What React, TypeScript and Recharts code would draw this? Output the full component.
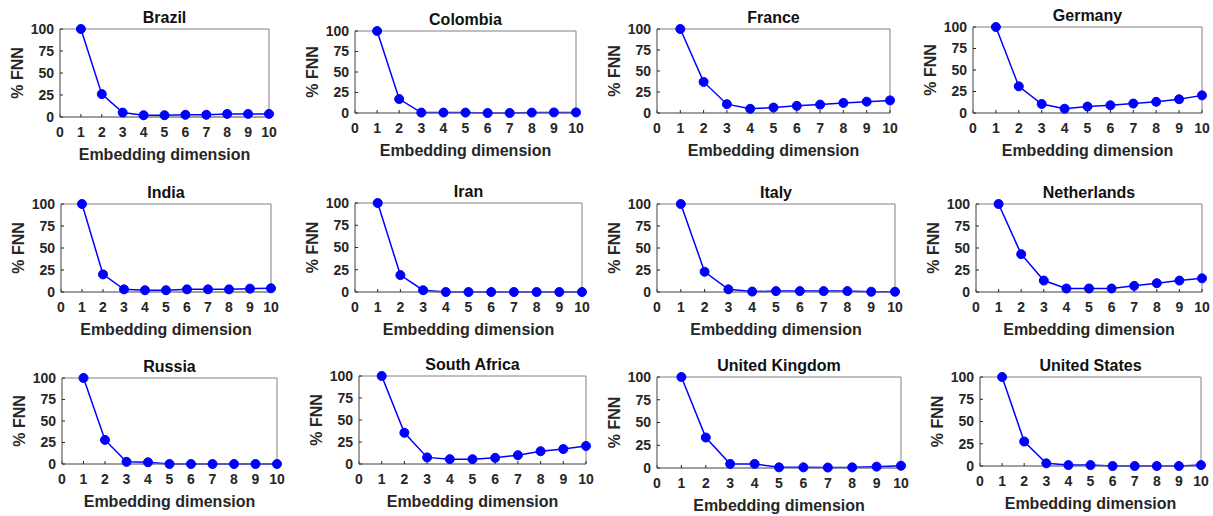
import { LineChart, Line, XAxis, YAxis, ReferenceArea } from "recharts";

const dims = [1, 2, 3, 4, 5, 6, 7, 8, 9, 10];
const xTicks = [0, 1, 2, 3, 4, 5, 6, 7, 8, 9, 10];
const yTicks = [0, 25, 50, 75, 100];

const brazil = [100, 26, 5, 2, 2, 2.5, 2.5, 3.5, 3.5, 3.5];
const colombia = [100, 17, 0.5, 0.5, 0.5, 0, 0, 0.5, 0.7, 0.7];
const france = [100, 37, 10.5, 5, 6.5, 8.5, 10, 12, 13.5, 15];
const germany = [100, 31, 10.5, 5, 7.5, 9, 11, 13, 16, 20.5];
const india = [100, 20, 3, 2, 2, 3, 3, 3, 3.8, 4.2];
const iran = [100, 19, 2, 0, 0, 0, 0, 0, 0, 0];
const italy = [100, 23, 3, 0.5, 1, 1, 1, 1, 0.3, 0.3];
const netherlands = [100, 43, 13, 4, 4, 4, 7, 10, 13, 15.5];
const russia = [100, 28, 2.5, 2, 0, 0, 0, 0, 0, 0];
const southAfrica = [100, 35.5, 7.5, 5.5, 5.5, 7, 10, 14.5, 17, 20.5];
const unitedKingdom = [100, 33.5, 4.5, 4.5, 0.7, 0.7, 0.5, 0.7, 1.5, 2.5];
const unitedStates = [100, 27.5, 3, 1, 1, 0, 0, 0, 0, 1];

const countries = [
  "Brazil", "Colombia", "France", "Germany",
  "India", "Iran", "Italy", "Netherlands",
  "Russia", "South Africa", "United Kingdom", "United States",
];
const series = [
  brazil, colombia, france, germany,
  india, iran, italy, netherlands,
  russia, southAfrica, unitedKingdom, unitedStates,
];

// plot box of each panel in page pixels: left, right, top, bottom
const boxes = [
  [60, 269, 29, 117], [355, 576, 31, 113], [657, 890, 29, 113], [973, 1202, 27, 113],
  [61, 271, 204, 292], [355, 582, 203, 292], [657, 895, 204, 292], [976, 1202, 204, 292],
  [62, 277, 378, 464], [359, 586, 376, 464], [657, 901, 377, 468], [980, 1201, 377, 466],
];

const FONT = '"Liberation Sans", Arial, sans-serif';
const TEXT = "#262626";
const FRAME = "#808080";
const BLUE = "#0000ff";

function Panel({ title, values, box }: { title: string; values: number[]; box: number[] }) {
  const [l, r, t, b] = box;
  const w = r - l;
  const h = b - t;
  const data = dims.map((d, i) => ({ dim: d, fnn: values[i] }));
  const tickStyle = { fill: TEXT, fontSize: 14, fontWeight: 700, fontFamily: FONT };

  return (
    <div style={{ position: "absolute", left: l - 60, top: t - 30, width: w + 70, height: h + 80 }}>
      <div
        style={{
          position: "absolute", left: 60, width: w, top: 10, textAlign: "center",
          fontFamily: FONT, fontWeight: 700, fontSize: 16, color: "#111", lineHeight: "18px",
        }}
      >
        {title}
      </div>
      <LineChart width={w + 70} height={h + 80} data={data} margin={{ top: 30, right: 10, left: 0, bottom: 0 }}>
        <XAxis
          dataKey="dim"
          type="number"
          domain={[0, 10]}
          ticks={xTicks}
          interval={0}
          height={50}
          tickSize={-3}
          tickMargin={13}
          tickLine={{ stroke: TEXT }}
          axisLine={{ stroke: FRAME }}
          tick={tickStyle}
          label={{
            value: "Embedding dimension", position: "insideBottom", offset: 7,
            style: { fill: TEXT, fontSize: 16, fontWeight: 700, fontFamily: FONT },
          }}
        />
        <YAxis
          type="number"
          domain={[0, 100]}
          ticks={yTicks}
          interval={0}
          width={60}
          tickSize={-3}
          tickMargin={9}
          tickLine={{ stroke: TEXT }}
          axisLine={{ stroke: FRAME }}
          tick={tickStyle}
          label={{
            value: "% FNN", angle: -90, position: "insideLeft", offset: 17,
            style: { fill: TEXT, fontSize: 16, fontWeight: 700, fontFamily: FONT, textAnchor: "middle" },
          }}
        />
        <ReferenceArea x1={0} x2={10} y1={0} y2={100} fill="none" stroke={FRAME} strokeWidth={1} ifOverflow="visible" />
        <Line
          dataKey="fnn"
          stroke={BLUE}
          strokeWidth={1.5}
          dot={{ r: 4.5, fill: BLUE, stroke: BLUE, strokeWidth: 1 }}
          isAnimationActive={false}
        />
      </LineChart>
    </div>
  );
}

export default function App() {
  return (
    <div style={{ position: "absolute", left: 0, top: 0, width: 1213, height: 516, background: "#fff" }}>
      {countries.map((c, i) => (
        <Panel key={c} title={c} values={series[i]} box={boxes[i]} />
      ))}
    </div>
  );
}
